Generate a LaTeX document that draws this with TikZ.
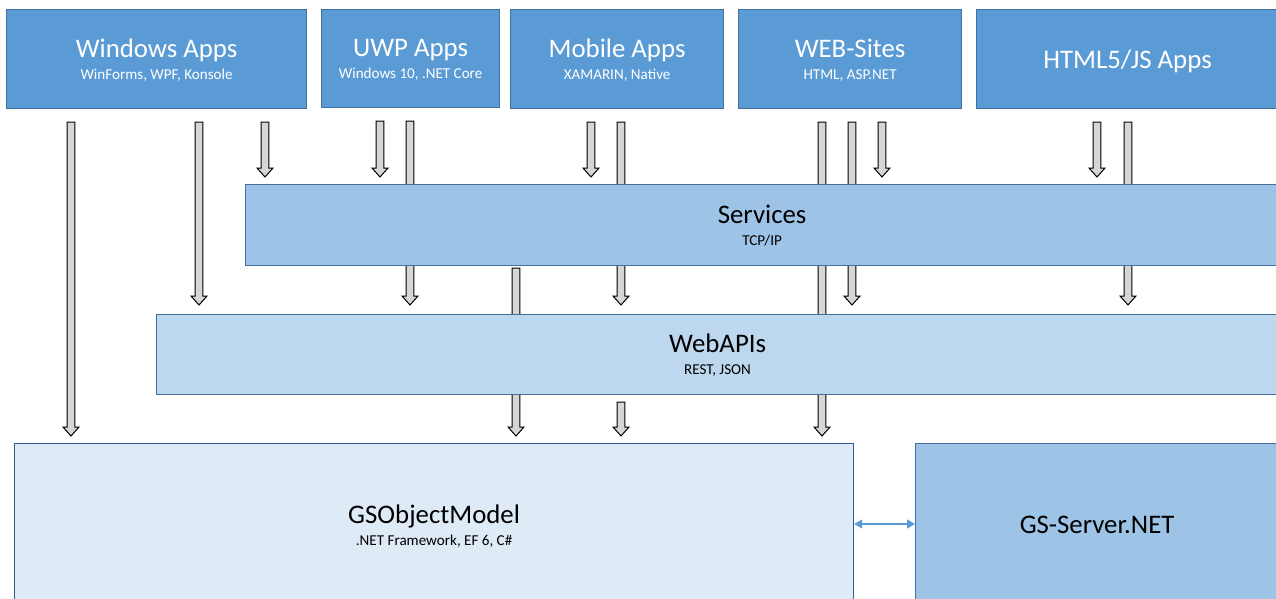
\documentclass[tikz,border=0pt]{standalone}
\usepackage{fontspec}
\setmainfont{Carlito}
\usetikzlibrary{calc,arrows.meta,backgrounds}
\definecolor{topfill}{HTML}{5B9BD5}
\definecolor{boxdraw}{HTML}{41719C}
\definecolor{svcfill}{HTML}{9DC3E6}
\definecolor{apifill}{HTML}{BDD7EE}
\definecolor{gsfill}{HTML}{DEEBF7}
\definecolor{gsdraw}{HTML}{2F5F8F}
\definecolor{arrowgray}{HTML}{D6D6D6}
\definecolor{linkblue}{HTML}{5B9BD5}
\newcommand{\ttl}[1]{{\fontsize{26.8}{22}\selectfont #1}}
\tikzset{
  box/.style={rectangle, anchor=north west, inner sep=0pt, line width=1.2pt,
    draw=boxdraw, align=center, font=\fontsize{15.1}{22}\selectfont, text depth=-5pt},
  oneline/.style={text depth=-2pt},
  topbox/.style={box, fill=topfill, text=white},
  barrow/.style={draw=black, line width=1pt, fill=arrowgray, line join=miter,
    to path={let \p1=(\tikztostart), \p2=(\tikztotarget) in
      (\x1-3.8pt,\y1) -- (\x1+3.8pt,\y1) -- (\x1+3.8pt,\y2+9pt) -- (\x1+8pt,\y2+9pt)
      -- (\x1,\y2) -- (\x1-8pt,\y2+9pt) -- (\x1-3.8pt,\y2+9pt) -- cycle}},
  link/.style={draw=linkblue, line width=1.2pt,
    {Triangle[width=9pt,length=8pt]}-{Triangle[width=9pt,length=8pt]}}
}
\begin{document}
\begin{tikzpicture}[x=1pt,y=-1pt]
\useasboundingbox (0,0) rectangle (1276,599);
% top row
\node[topbox, minimum width=300pt, minimum height=99pt] (win) at (6,9)
  {\ttl{Windows Apps}\\WinForms, WPF, Konsole};
\node[topbox, minimum width=178pt, minimum height=98pt] (uwp) at (321,9)
  {\ttl{UWP Apps}\\Windows 10, .NET Core};
\node[topbox, minimum width=213pt, minimum height=99pt] (mob) at (510,9)
  {\ttl{Mobile Apps}\\XAMARIN, Native};
\node[topbox, minimum width=223pt, minimum height=99pt] (web) at (738,9)
  {\ttl{WEB-Sites}\\HTML, ASP.NET};
\node[topbox, oneline, minimum width=302pt, minimum height=99pt] (html) at (976,9)
  {\ttl{HTML5/JS Apps}};
% layers
\node[box, fill=svcfill, minimum width=1033pt, minimum height=81pt] (svc) at (245,184)
  {\ttl{Services}\\TCP/IP};
\node[box, fill=apifill, minimum width=1122pt, minimum height=80pt] (api) at (156,314)
  {\ttl{WebAPIs}\\REST, JSON};
\node[box, fill=gsfill, draw=gsdraw, minimum width=839pt, minimum height=164pt] (gsom) at (14,443)
  {\ttl{GSObjectModel}\\.NET Framework, EF 6, C\#};
\node[box, oneline, fill=svcfill, minimum width=363pt, minimum height=162pt] (gss) at (915,443)
  {\ttl{GS-Server.NET}};
% x positions of the arrows
\foreach \xx in {71,199,265,380,410,516,591,621,822,852,882,1097,1128}
  \coordinate (c\xx) at (\xx,0);
\begin{pgfonlayer}{background}
\draw[barrow] ([yshift=-13pt]win.south -| c71) to ([yshift=7pt]gsom.north -| c71);
\draw[barrow] ([yshift=-13pt]win.south -| c199) to ([yshift=9pt]api.north -| c199);
\draw[barrow] ([yshift=-13pt]win.south -| c265) to ([yshift=7pt]svc.north -| c265);
\draw[barrow] ([yshift=-13pt]uwp.south -| c380) to ([yshift=7pt]svc.north -| c380);
\draw[barrow] ([yshift=-13pt]uwp.south -| c410) to ([yshift=9pt]api.north -| c410);
\draw[barrow] ([yshift=-13pt]mob.south -| c591) to ([yshift=7pt]svc.north -| c591);
\draw[barrow] ([yshift=-13pt]mob.south -| c621) to ([yshift=9pt]api.north -| c621);
\draw[barrow] ([yshift=-2pt]svc.south -| c516) to ([yshift=7pt]gsom.north -| c516);
\draw[barrow] ([yshift=-7pt]api.south -| c621) to ([yshift=7pt]gsom.north -| c621);
\draw[barrow] ([yshift=-13pt]web.south -| c822) to ([yshift=7pt]gsom.north -| c822);
\draw[barrow] ([yshift=-13pt]web.south -| c852) to ([yshift=9pt]api.north -| c852);
\draw[barrow] ([yshift=-13pt]web.south -| c882) to ([yshift=7pt]svc.north -| c882);
\draw[barrow] ([yshift=-13pt]html.south -| c1097) to ([yshift=7pt]svc.north -| c1097);
\draw[barrow] ([yshift=-13pt]html.south -| c1128) to ([yshift=9pt]api.north -| c1128);
\end{pgfonlayer}
\draw[link] ([yshift=-81pt]gsom.north east) -- ([yshift=-81pt]gss.north west);
\end{tikzpicture}
\end{document}
